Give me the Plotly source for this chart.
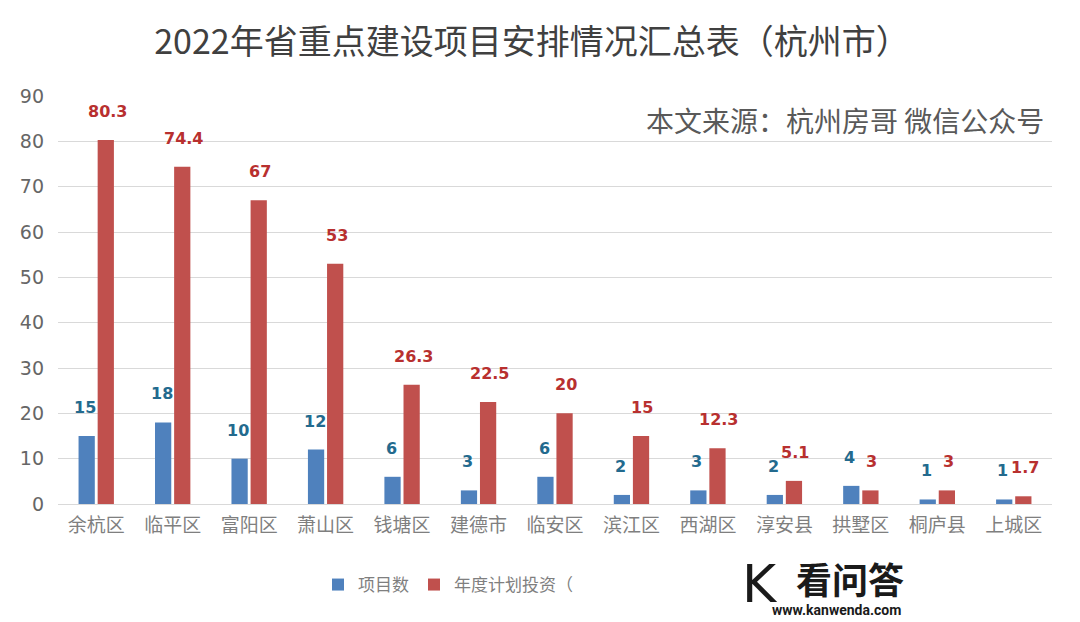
import plotly.graph_objects as go

categories = ["余杭区", "临平区", "富阳区", "萧山区", "钱塘区", "建德市", "临安区",
              "滨江区", "西湖区", "淳安县", "拱墅区", "桐庐县", "上城区"]
project_counts = [15, 18, 10, 12, 6, 3, 6, 2, 3, 2, 4, 1, 1]
investment = [80.3, 74.4, 67, 53, 26.3, 22.5, 20, 15, 12.3, 5.1, 3, 3, 1.7]
y_ticks = [0, 10, 20, 30, 40, 50, 60, 70, 80, 90]

BLUE = "#4f81bd"
RED = "#c0504d"
BLUE_TXT = "#236a8e"
RED_TXT = "#b8302f"
CJK = "Noto Sans CJK SC"

# page has an 8px body margin; plot area target: x 58..1052, y 96..504 (window pixels)
OFF = 8
W, H = 1080 - OFF, 622 - OFF
PL, PR, PT, PB = 58, 1052, 96, 504


def px(x):
    return (x - PL) / (PR - PL)


def py(y):
    return (PB - y) / (PB - PT)


fig = go.Figure()
fig.add_trace(go.Bar(x=categories, y=project_counts, name="项目数",
                     marker=dict(color=BLUE, line=dict(width=0))))
fig.add_trace(go.Bar(x=categories, y=investment, name="年度计划投资（",
                     marker=dict(color=RED, line=dict(width=0))))

annotations = []
for c, v in zip(categories, project_counts):
    annotations.append(dict(x=c, y=v, xref="x", yref="y", text=f"<b>{v:g}</b>",
                            showarrow=False, xshift=-11, yshift=17, yanchor="bottom",
                            font=dict(family="DejaVu Sans", size=16, color=BLUE_TXT)))
for c, v in zip(categories, investment):
    annotations.append(dict(x=c, y=v, xref="x", yref="y", text=f"<b>{v:g}</b>",
                            showarrow=False, xshift=11, yshift=17, yanchor="bottom",
                            font=dict(family="DejaVu Sans", size=16, color=RED_TXT)))

annotations.append(dict(x=px(1046), y=py(120), xref="paper", yref="paper",
                        text="本文来源：杭州房哥 微信公众号",
                        showarrow=False, xanchor="right", yanchor="middle",
                        font=dict(family=CJK, size=28, color="#595959")))

# watermark
annotations.append(dict(x=px(794), y=py(578), xref="paper", yref="paper",
                        text="<b>看问答</b>", showarrow=False, xanchor="left", yanchor="middle",
                        font=dict(family=CJK, size=36, color="#1a1a1a")))
annotations.append(dict(x=px(770), y=py(610), xref="paper", yref="paper",
                        text="<b>www.kanwenda.com</b>", showarrow=False, xanchor="left", yanchor="middle",
                        font=dict(family="Liberation Sans Narrow, Roboto", size=14, color="#1a1a1a")))
annotations.append(dict(x=px(760), y=py(584), xref="paper", yref="paper",
                        text="K", showarrow=False, xanchor="center", yanchor="middle",
                        font=dict(family="DejaVu Sans", size=52, color="#1a1a1a")))

fig.update_layout(
    width=W, height=H,
    margin=dict(l=PL - OFF, r=W + OFF - PR, t=PT - OFF, b=H + OFF - PB),
    paper_bgcolor="white", plot_bgcolor="white",
    barmode="group", bargap=0.5, bargroupgap=0.15,
    title=dict(text="2022年省重点建设项目安排情况汇总表（杭州市）",
               x=(532 - OFF) / W, xanchor="center",
               y=1 - (42 - OFF) / H, yanchor="middle",
               font=dict(family=CJK, size=34, color="#404040")),
    xaxis=dict(type="category", showgrid=False, showline=False, ticks="",
               ticklabelstandoff=8,
               tickfont=dict(family=CJK, size=19, color="#7f7f7f")),
    yaxis=dict(range=[0, 90], tickvals=y_ticks, showgrid=True, gridcolor="#d9d9d9", gridwidth=1,
               zeroline=True, zerolinecolor="#d9d9d9", zerolinewidth=1,
               ticklabelstandoff=13,
               tickfont=dict(family="DejaVu Sans", size=19, color="#666666"), ticks=""),
    legend=dict(orientation="h", x=px(448), xanchor="center", y=py(585),
                yanchor="middle", font=dict(family=CJK, size=17, color="#7f7f7f"),
                itemwidth=30, tracegroupgap=0),
    annotations=annotations,
    showlegend=True,
)

fig.write_html("out.html")
